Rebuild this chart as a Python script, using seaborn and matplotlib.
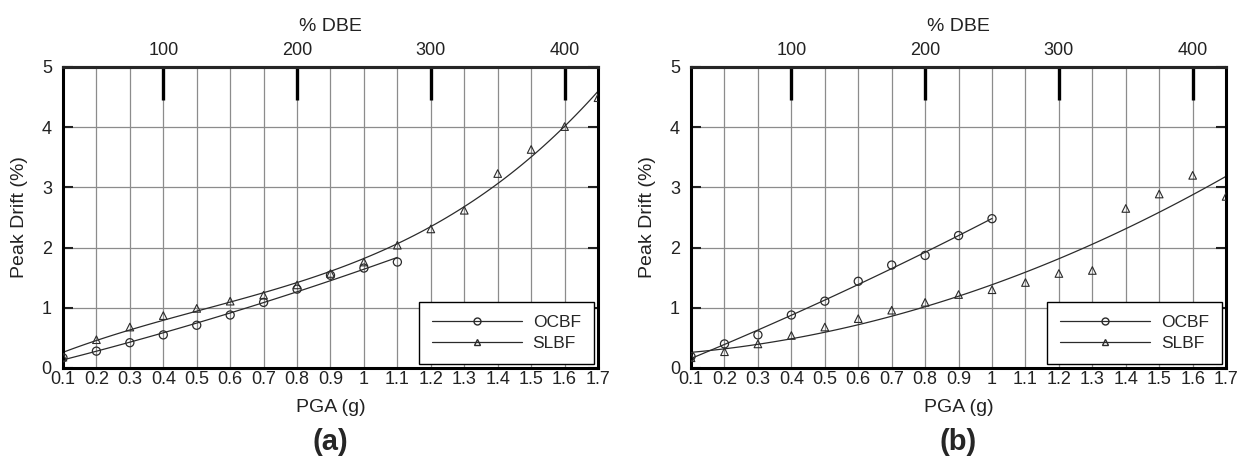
import numpy as np
import pandas as pd
import seaborn as sns
import matplotlib.pyplot as plt
from matplotlib.lines import Line2D
from matplotlib.ticker import FuncFormatter

# values (PGA in g, peak drift in %)
pga_a_ocbf = [0.1, 0.2, 0.3, 0.4, 0.5, 0.6, 0.7, 0.8, 0.9, 1.0, 1.1]
drift_a_ocbf = [0.17, 0.28, 0.42, 0.55, 0.71, 0.88, 1.09, 1.31, 1.54, 1.66, 1.76]
pga_a_slbf = [0.1, 0.2, 0.3, 0.4, 0.5, 0.6, 0.7, 0.8, 0.9, 1.0, 1.1, 1.2, 1.3, 1.4, 1.5, 1.6, 1.7]
drift_a_slbf = [0.18, 0.47, 0.68, 0.87, 0.99, 1.11, 1.21, 1.38, 1.57, 1.76, 2.04,
                2.31, 2.62, 3.23, 3.63, 4.01, 4.49]

pga_b_ocbf = [0.1, 0.2, 0.3, 0.4, 0.5, 0.6, 0.7, 0.8, 0.9, 1.0]
drift_b_ocbf = [0.19, 0.40, 0.55, 0.88, 1.11, 1.44, 1.71, 1.87, 2.20, 2.48]
pga_b_slbf = [0.1, 0.2, 0.3, 0.4, 0.5, 0.6, 0.7, 0.8, 0.9, 1.0, 1.1, 1.2, 1.3, 1.4, 1.5, 1.6, 1.7]
drift_b_slbf = [0.17, 0.27, 0.40, 0.54, 0.68, 0.82, 0.96, 1.09, 1.22, 1.30, 1.42,
                1.57, 1.62, 2.65, 2.89, 3.20, 2.85]

x_ticks = [0.1, 0.2, 0.3, 0.4, 0.5, 0.6, 0.7, 0.8, 0.9, 1.0, 1.1, 1.2, 1.3, 1.4, 1.5, 1.6, 1.7]
y_ticks = [0, 1, 2, 3, 4, 5]
dbe_ticks = [100, 200, 300, 400]
panel_labels = ["(a)", "(b)"]

sns.set_theme(style="white")
plt.rcParams['font.family'] = ['Liberation Sans', 'DejaVu Sans']

fig = plt.figure(figsize=(12.42, 4.63), dpi=100)
ax_a = fig.add_axes([0.0507, 0.2052, 0.4308, 0.6501])
ax_b = fig.add_axes([0.5564, 0.2052, 0.4308, 0.6501])

# (axes, ocbf x, ocbf y, slbf x, slbf y, fit order for slbf)
panels = [
    (ax_a, pga_a_ocbf, drift_a_ocbf, pga_a_slbf, drift_a_slbf, 3),
    (ax_b, pga_b_ocbf, drift_b_ocbf, pga_b_slbf, drift_b_slbf, 2),
]

ink = "#2b2b2b"

for i, (ax, xo, yo, xs, ys, s_order) in enumerate(panels):
    df_o = pd.DataFrame({"pga": xo, "drift": yo})
    df_s = pd.DataFrame({"pga": xs, "drift": ys})

    # fitted trend lines
    sns.regplot(data=df_o, x="pga", y="drift", order=2, ci=None, scatter=False,
                ax=ax, line_kws=dict(color=ink, lw=0.9))
    sns.regplot(data=df_s, x="pga", y="drift", order=s_order, ci=None, scatter=False,
                ax=ax, line_kws=dict(color=ink, lw=0.9))
    # markers
    sns.scatterplot(data=df_o, x="pga", y="drift", marker="o", s=34, ax=ax,
                    facecolor="none", edgecolor=ink, linewidth=0.9, zorder=3)
    sns.scatterplot(data=df_s, x="pga", y="drift", marker="^", s=30, ax=ax,
                    facecolor="none", edgecolor=ink, linewidth=0.8, zorder=3)

    ax.set_xlim(0.1, 1.7)
    ax.set_ylim(0, 5)
    ax.set_xticks(x_ticks)
    ax.set_yticks(y_ticks)
    ax.xaxis.set_major_formatter(FuncFormatter(lambda v, p: f"{v:g}"))
    ax.grid(True, color="#8c8c8c", lw=0.9)
    ax.set_axisbelow(True)
    for sp in ax.spines.values():
        sp.set_color("black")
        sp.set_linewidth(2.2)
    ax.tick_params(axis="x", labelsize=13, length=0, pad=2, colors="#222222")
    ax.tick_params(axis="y", labelsize=13, direction="in", length=7, width=1.5,
                   left=True, right=True, pad=8, colors="#222222")
    ax.set_xlabel("PGA (g)", fontsize=14, labelpad=8, color="#222222")
    ax.set_ylabel("Peak Drift (%)", fontsize=14, labelpad=10, color="#222222")

    # top axis in % of design basis earthquake (100% DBE = 0.4 g)
    sec = ax.secondary_xaxis("top", functions=(lambda x: x * 250, lambda x: x / 250))
    sec.set_zorder(4)
    sec.set_xticks(dbe_ticks)
    sec.tick_params(direction="in", length=24, width=2.4, labelsize=13, pad=6,
                    colors="black", labelcolor="#222222")
    sec.spines["top"].set_linewidth(2.2)
    sec.set_xlabel("% DBE", fontsize=14, labelpad=8, color="#222222")

    handles = [
        Line2D([], [], color=ink, lw=0.9, marker="o", markersize=5,
               markerfacecolor="none", markeredgecolor=ink),
        Line2D([], [], color=ink, lw=0.9, marker="^", markersize=5,
               markerfacecolor="none", markeredgecolor=ink),
    ]
    leg = ax.legend(handles, ["OCBF", "SLBF"], loc="lower right", fontsize=12.5,
                    handlelength=5.2, numpoints=1, frameon=True, fancybox=False,
                    framealpha=1, edgecolor="black", borderaxespad=0.25,
                    borderpad=0.75, labelspacing=0.3, handletextpad=0.6)
    leg.get_frame().set_linewidth(1.0)

    pos = ax.get_position()
    fig.text(pos.x0 + pos.width / 2, 0.045, panel_labels[i], ha="center", va="center",
             fontsize=21, fontweight="bold")

fig.savefig("out.png", dpi=100)
